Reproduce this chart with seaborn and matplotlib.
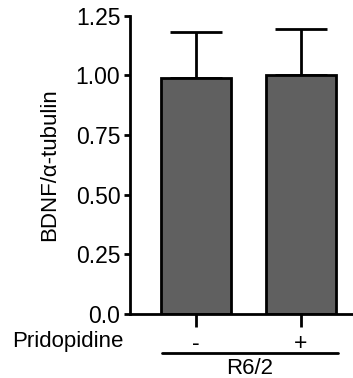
import matplotlib
matplotlib.use("Agg")
import matplotlib.pyplot as plt
import seaborn as sns
import pandas as pd

# data
groups = ["-", "+"]
means = [0.99, 1.00]
errors = [0.19, 0.195]
group_label = "R6/2"
treatment_label = "Pridopidine"
y_ticks = [0.0, 0.25, 0.50, 0.75, 1.00, 1.25]
y_ticklabels = ["0.0", "0.25", "0.50", "0.75", "1.00", "1.25"]

sns.set_theme(style="ticks")
plt.rcParams["font.family"] = ["Liberation Sans", "DejaVu Sans"]
plt.rcParams["text.color"] = "black"
plt.rcParams["axes.labelcolor"] = "black"

df = pd.DataFrame({"group": groups, "value": means})

fig = plt.figure(figsize=(3.53, 3.78), dpi=100)
ax = fig.add_axes([130/353, 1-314/378, 1-130/353, (314-15.7)/378])

sns.barplot(data=df, x="group", y="value", order=groups, color="#606060",
            edgecolor="black", linewidth=2, width=0.67, errorbar=None,
            saturation=1, ax=ax)
ax.errorbar(range(len(groups)), means, yerr=[[0]*len(groups), errors],
            fmt="none", ecolor="black", elinewidth=2, capsize=18.5, capthick=2,
            zorder=0)

ax.set_ylim(0, 1.25)
ax.set_xlim(-0.629, 1.495)
ax.set_yticks(y_ticks)
ax.set_yticklabels(y_ticklabels)
ax.set_xticks(range(len(groups)))
ax.set_xticklabels(groups)
ax.set_xlabel("")
ax.set_ylabel("BDNF/\u03b1-tubulin", fontsize=16, labelpad=11, color="black")
ax.tick_params(axis="y", length=4, width=2, labelsize=16.5, pad=3,
               colors="black", labelcolor="black")
ax.tick_params(axis="x", length=9, width=2, labelsize=16.5, pad=4,
               colors="black", labelcolor="black")
for s in ["top", "right"]:
    ax.spines[s].set_visible(False)
for s in ["left", "bottom"]:
    ax.spines[s].set_linewidth(2)
    ax.spines[s].set_color("black")

fig.text(123/353, 1-347/378, treatment_label, ha="right", va="baseline",
         fontsize=16, color="black")
fig.add_artist(plt.Line2D([162/353, 338/353], [1-353/378, 1-353/378],
                          color="black", linewidth=2, transform=fig.transFigure))
fig.text(250/353, 1-374/378, group_label, ha="center", va="baseline",
         fontsize=16, color="black")

fig.savefig("out.png", dpi=100)
